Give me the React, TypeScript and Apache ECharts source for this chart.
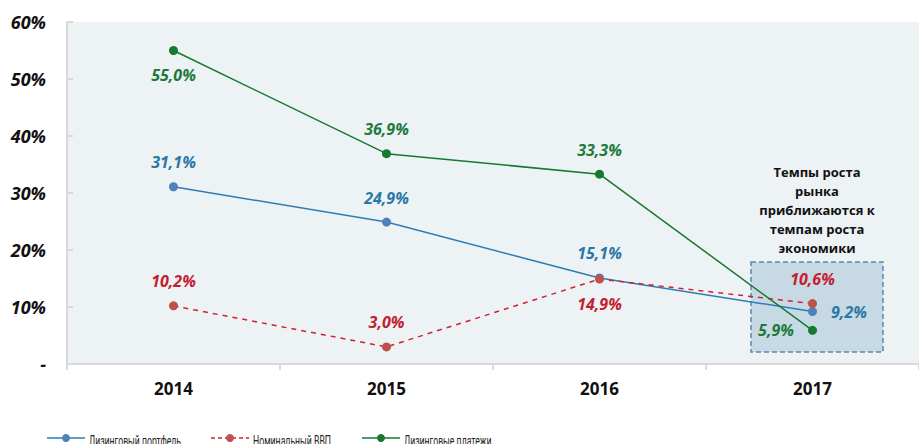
import React, { useEffect, useRef } from "react";
import * as echarts from "echarts";

const categories = ["2014", "2015", "2016", "2017"];
const yTicks = [0, 10, 20, 30, 40, 50, 60];
const portfolio = [31.1, 24.9, 15.1, 9.2];
const gdp = [10.2, 3.0, 14.9, 10.6];
const payments = [55.0, 36.9, 33.3, 5.9];
const portfolioPos = ["top", "top", "top", "right"];
const gdpPos = ["top", "top", "bottom", "top"];
const paymentsPos = ["bottom", "top", "top", "left"];
const seriesNames = ["Лизинговый портфель", "Номинальный ВВП", "Лизинговые платежи"];
const noteLines = ["Темпы роста", "рынка", "приближаются к", "темпам роста", "экономики"];

const fmt = (v: number) => v.toFixed(1).replace(".", ",") + "%";

const styles = [
  { line: "#2e7cb4", marker: "#4f81bd", label: "#2a78a6", dashed: false },
  { line: "#d0222e", marker: "#c0504d", label: "#c41e30", dashed: true },
  { line: "#17782f", marker: "#17782f", label: "#1f7a3a", dashed: false },
];
const legendX = [47, 211, 362];

export default function App() {
  const ref = useRef<HTMLDivElement>(null);
  useEffect(() => {
    const chart = echarts.init(ref.current!, undefined, { renderer: "svg" });
    const labelFont = {
      fontFamily: "Open Sans",
      fontWeight: "bold" as const,
      fontStyle: "italic" as const,
      fontSize: 16,
    };
    const mk = (idx: number, values: number[], pos: string[]) => ({
      type: "line",
      name: seriesNames[idx],
      symbol: "circle",
      symbolSize: 9,
      z: 3,
      itemStyle: { color: styles[idx].marker },
      lineStyle: {
        color: styles[idx].line,
        width: 1.5,
        type: styles[idx].dashed ? [5, 5] : "solid",
      },
      data: values.map((v, i) => ({
        value: v,
        label: {
          show: true,
          position: pos[i],
          distance: pos[i] === "left" || pos[i] === "right" ? 14 : 12,
          formatter: () => fmt(v),
          color: styles[idx].label,
          ...labelFont,
        },
      })),
    });
    const legendGraphics = seriesNames.map((name, i) => ({
      type: "group",
      x: legendX[i],
      y: 438,
      children: [
        {
          type: "line",
          shape: { x1: 0, y1: 0, x2: 38, y2: 0 },
          style: {
            stroke: styles[i].line,
            lineWidth: 1.5,
            lineDash: styles[i].dashed ? [4, 3] : null,
          },
        },
        {
          type: "circle",
          shape: { cx: 19, cy: 0, r: 4 },
          style: { fill: styles[i].marker },
        },
        {
          type: "text",
          x: 42,
          y: 3,
          scaleX: 0.58,
          style: {
            text: name,
            align: "left",
            verticalAlign: "middle",
            fontFamily: "Roboto",
            fontSize: 15,
            fill: "#262626",
          },
        },
      ],
    }));
    chart.setOption({
      animation: false,
      grid: {
        left: 67,
        right: -5,
        top: 22,
        bottom: 80,
        show: true,
        backgroundColor: "#edf2f5",
        borderWidth: 0,
      },
      legend: { show: false, data: seriesNames },
      xAxis: {
        type: "category",
        data: categories,
        boundaryGap: true,
        axisLine: { lineStyle: { color: "#d9d9d9", width: 2 } },
        axisTick: { show: true, length: 6, lineStyle: { color: "#d9d9d9", width: 2 } },
        axisLabel: {
          margin: 16,
          color: "#111",
          fontFamily: "Open Sans",
          fontWeight: "bold",
          fontSize: 17,
        },
      },
      yAxis: {
        type: "value",
        min: yTicks[0],
        max: yTicks[yTicks.length - 1],
        interval: 10,
        splitLine: { show: false },
        axisLine: { show: true, lineStyle: { color: "#d9d9d9", width: 2 } },
        axisTick: { show: true, inside: true, length: 6, lineStyle: { color: "#d9d9d9", width: 2 } },
        axisLabel: {
          margin: 21,
          color: "#111",
          fontFamily: "Open Sans",
          fontWeight: "bold",
          fontStyle: "italic",
          fontSize: 18,
          formatter: (v: number) => (v === 0 ? "-" : v + "%"),
        },
      },
      graphic: [
        {
          type: "rect",
          z: 1,
          shape: { x: 751, y: 262, width: 132, height: 90 },
          style: { fill: "#c6d9e5", stroke: "#5a88ad", lineWidth: 1.5, lineDash: [5, 3] },
        },
        {
          type: "text",
          z: 5,
          x: 817,
          y: 210,
          style: {
            text: noteLines.join("\n"),
            align: "center",
            verticalAlign: "middle",
            lineHeight: 19,
            fontFamily: "Open Sans",
            fontWeight: "bold",
            fontSize: 13,
            fill: "#111",
          },
        },
        ...legendGraphics,
      ],
      series: [mk(0, portfolio, portfolioPos), mk(1, gdp, gdpPos), mk(2, payments, paymentsPos)],
    });
    return () => chart.dispose();
  }, []);
  return (
    <div
      ref={ref}
      style={{ position: "absolute", left: 0, top: 0, width: 919, height: 444 }}
    />
  );
}
